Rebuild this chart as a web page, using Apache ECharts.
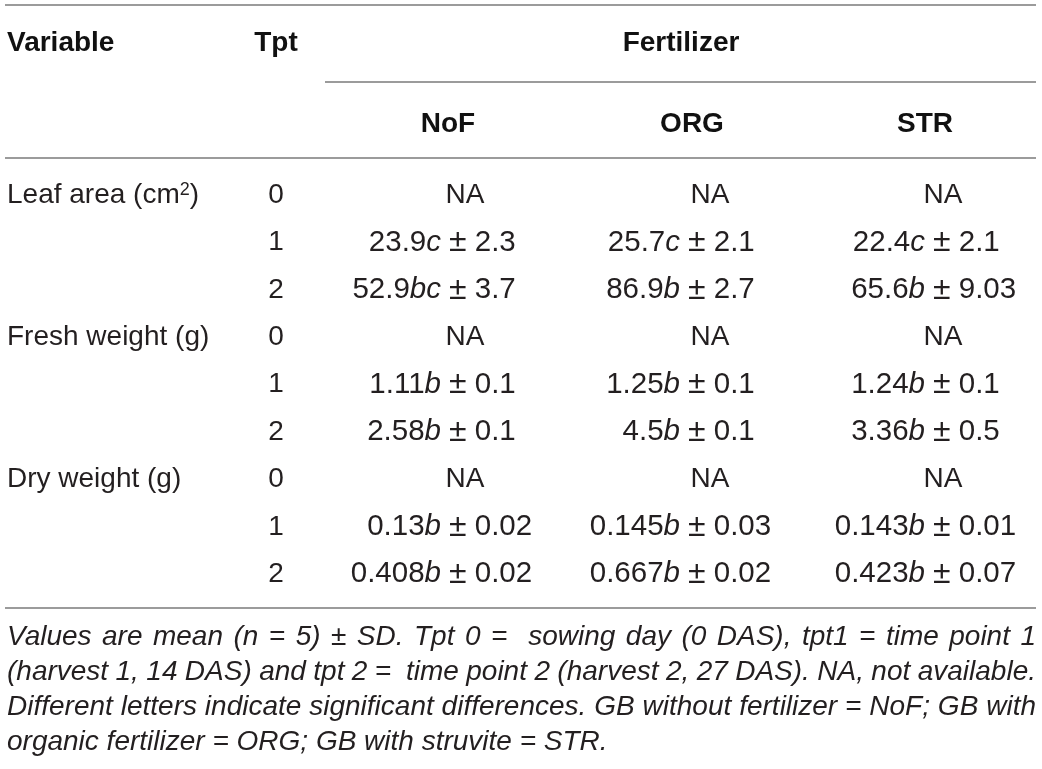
<!DOCTYPE html>
<html><head><meta charset="utf-8">
<script src="https://cdn.jsdelivr.net/npm/echarts@6/dist/echarts.min.js"></script>
<style>html,body{margin:0;padding:0;background:#fff}#c{width:1042px;height:769px}</style>
</head><body><div id="c"></div>
<script>
// ---------- data ----------
const variables = ['Leaf area (cm²)', 'Fresh weight (g)', 'Dry weight (g)'];
const timePoints = ['0', '1', '2'];
const fertilizers = ['NoF', 'ORG', 'STR'];
const headerTop = ['Variable', 'Tpt', 'Fertilizer'];

const meanNoF   = [null, 23.9, 52.9, null, 1.11, 2.58, null, 0.13, 0.408];
const letterNoF = [null, 'c', 'bc', null, 'b', 'b', null, 'b', 'b'];
const sdNoF     = [null, 2.3, 3.7, null, 0.1, 0.1, null, 0.02, 0.02];

const meanORG   = [null, 25.7, 86.9, null, 1.25, 4.5, null, 0.145, 0.667];
const letterORG = [null, 'c', 'b', null, 'b', 'b', null, 'b', 'b'];
const sdORG     = [null, 2.1, 2.7, null, 0.1, 0.1, null, 0.03, 0.02];

const meanSTR   = [null, 22.4, 65.6, null, 1.24, 3.36, null, 0.143, 0.423];
const letterSTR = [null, 'c', 'b', null, 'b', 'b', null, 'b', 'b'];
const sdSTR     = [null, 2.1, 9.03, null, 0.1, 0.5, null, 0.01, 0.07];

const captionLines = [
  'Values are mean (n = 5) ± SD. Tpt 0 =  sowing day (0 DAS), tpt1 = time point 1',
  '(harvest 1, 14 DAS) and tpt 2 =  time point 2 (harvest 2, 27 DAS). NA, not available.',
  'Different letters indicate significant differences. GB without fertilizer = NoF; GB with',
  'organic fertilizer = ORG; GB with struvite = STR.'
];

// ---------- layout / style ----------
const FONT = '"Liberation Sans", Arial, Helvetica, sans-serif';
const TXT = '#231f20';
const HEAD = '#111';
const FS = 28;
const FSV = 29.5;
const RULE = '#7a7a7a';
const X = {
  variable: 7, tpt: 276, fert: 681,
  head: { NoF: 448, ORG: 692, STR: 925 },
  pm:   { NoF: 449, ORG: 688, STR: 933 },
  na:   { NoF: 465, ORG: 710, STR: 943 }
};
const W = 1042, H = 769;
const CAP = { left: 7, right: 1036, firstY: 637, step: 35, size: 28 };

const fertData = {
  NoF: { mean: meanNoF, letter: letterNoF, sd: sdNoF },
  ORG: { mean: meanORG, letter: letterORG, sd: sdORG },
  STR: { mean: meanSTR, letter: letterSTR, sd: sdSTR }
};

const rowKeys = [];
variables.forEach((v, i) => timePoints.forEach(t => rowKeys.push(i + '-' + t)));
const headKeys = ['h1', 'h2'];

const rich = {
  it: { fontStyle: 'italic', color: TXT, fontFamily: FONT, fontSize: FSV },
  pm: { fontSize: 32, color: TXT, fontFamily: FONT },
  sup: { fontSize: 18, lineHeight: 18, verticalAlign: 'top', color: TXT, fontFamily: FONT }
};

function textSeries(gridIdx, data, position, distance, bold, size) {
  return {
    type: 'scatter', xAxisIndex: gridIdx, yAxisIndex: gridIdx,
    symbolSize: 0, itemStyle: { color: 'rgba(0,0,0,0)', opacity: 1 }, silent: true,
    emphasis: { disabled: true },
    data: data,
    label: {
      show: true, position: position, distance: distance,
      color: bold ? HEAD : TXT, fontFamily: FONT, fontSize: size || FS,
      fontWeight: bold ? 'bold' : 'normal',
      formatter: p => p.data.txt, rich: rich
    }
  };
}

const series = [];
// header
series.push(textSeries(1, [{ value: [X.variable, 'h1'], txt: headerTop[0] }], 'right', 0, true));
series.push(textSeries(1, [
  { value: [X.tpt, 'h1'], txt: headerTop[1] },
  { value: [X.fert, 'h1'], txt: headerTop[2] },
  ...fertilizers.map(f => ({ value: [X.head[f], 'h2'], txt: f }))
], 'inside', 0, true));

// body: variable names
series.push(textSeries(0, variables.map((v, i) => ({
  value: [X.variable, rowKeys[i * timePoints.length]],
  txt: v.replace('²', '{sup|2}')
})), 'right', 0, false));
// body: time points
series.push(textSeries(0, rowKeys.map((k, r) => ({
  value: [X.tpt, k], txt: timePoints[r % timePoints.length]
})), 'inside', 0, false));
// body: fertilizer values (aligned on the ± sign)
fertilizers.forEach(f => {
  const d = fertData[f];
  const na = [], left = [], right = [];
  rowKeys.forEach((k, r) => {
    if (d.mean[r] === null) {
      na.push({ value: [X.na[f], k], txt: 'NA' });
    } else {
      left.push({ value: [X.pm[f], k], txt: String(d.mean[r]) + '{it|' + d.letter[r] + '}' });
      right.push({ value: [X.pm[f], k], txt: '{pm|±} ' + String(d.sd[r]) });
    }
  });
  series.push(textSeries(0, na, 'inside', 0, false));
  series.push(textSeries(0, left, 'left', 8, false, FSV));
  series.push(textSeries(0, right, 'right', 0, false, FSV));
});

const rowStep = 47.4, firstRow = 195;
const bodyTop = firstRow - rowStep / 2;
const bodyH = rowStep * rowKeys.length;
const headStep = 81, firstHead = 43;
const headTop = firstHead - headStep / 2;

function line(x1, y, x2) {
  return { type: 'line', shape: { x1: x1, y1: y, x2: x2, y2: y }, style: { stroke: RULE, lineWidth: 1.5 }, silent: true };
}

// justified caption: each word placed as text, gaps spread over the line width
const capFont = 'italic ' + CAP.size + 'px ' + FONT;
const mctx = document.createElement('canvas').getContext('2d');
mctx.font = capFont;
const captionGraphics = [];
captionLines.forEach((ln, li) => {
  const y = CAP.firstY + li * CAP.step;
  const last = li === captionLines.length - 1;
  if (last) {
    captionGraphics.push({ type: 'text', silent: true, style: {
      text: ln, x: CAP.left, y: y, font: capFont, fill: TXT,
      textAlign: 'left', textVerticalAlign: 'middle', align: 'left', verticalAlign: 'middle' } });
    return;
  }
  const words = ln.split(' ');
  const widths = words.map(w => mctx.measureText(w).width);
  const total = widths.reduce((a, b) => a + b, 0);
  const gap = (CAP.right - CAP.left - total) / (words.length - 1);
  let x = CAP.left;
  words.forEach((w, wi) => {
    if (w.length) {
      captionGraphics.push({ type: 'text', silent: true, style: {
        text: w, x: x, y: y, font: capFont, fill: TXT,
        textAlign: 'left', textVerticalAlign: 'middle', align: 'left', verticalAlign: 'middle' } });
    }
    x += widths[wi] + gap;
  });
});

const chart = echarts.init(document.getElementById('c'), null, { renderer: 'canvas' });
chart.setOption({
  animation: false,
  backgroundColor: '#fff',
  grid: [
    { left: 0, width: W, top: bodyTop, height: bodyH },
    { left: 0, width: W, top: headTop, height: headStep * 2 }
  ],
  xAxis: [
    { type: 'value', gridIndex: 0, min: 0, max: W, show: false },
    { type: 'value', gridIndex: 1, min: 0, max: W, show: false }
  ],
  yAxis: [
    { type: 'category', gridIndex: 0, data: rowKeys, inverse: true, show: false },
    { type: 'category', gridIndex: 1, data: headKeys, inverse: true, show: false }
  ],
  graphic: [
    line(5, 5, 1036),
    line(325, 82, 1036),
    line(5, 158, 1036),
    line(5, 608, 1036)
  ].concat(captionGraphics),
  series: series
});
</script></body></html>
